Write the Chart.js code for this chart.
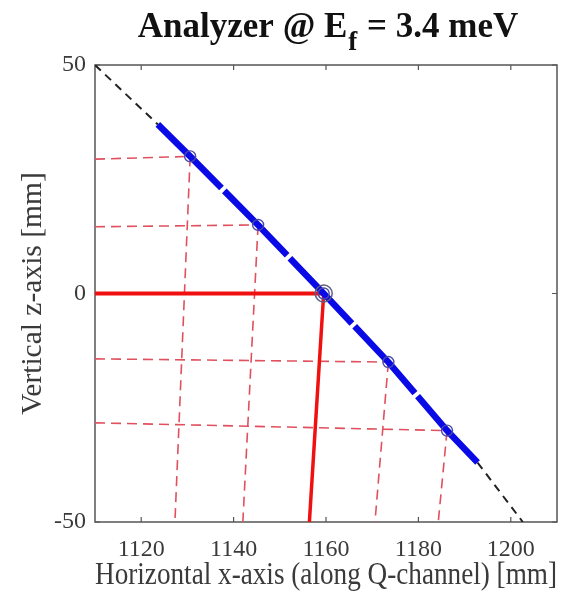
<!DOCTYPE html>
<html>
<head>
<meta charset="utf-8">
<script src="https://cdn.jsdelivr.net/npm/chart.js@4.4.1/dist/chart.umd.min.js"></script>
<style>
  html, body { margin: 0; padding: 0; background: #ffffff; }
  #wrap { width: 571px; height: 597px; }
</style>
</head>
<body>
<div id="wrap"><canvas id="c" width="571" height="597"></canvas></div>
<script>
// ---- data ----
const titleMain = "Analyzer @ E";
const titleSub = "f";
const titleTail = " = 3.4 meV";
const xLabel = "Horizontal x-axis (along Q-channel) [mm]";
const yLabel = "Vertical z-axis [mm]";
const xTicks = [1120, 1140, 1160, 1180, 1200];
const yTicks = [-50, 0, 50];

// analyzer blade positions (circles)
const bladeX = [1130.6, 1145.3, 1159.5, 1173.5, 1186.2];
const bladeZ = [30, 15, 0, -15, -30];

// thick blue analyzer curve
const analyzerX = [1123.6, 1130.6, 1145.3, 1159.5, 1173.5, 1186.2, 1192.8];
const analyzerZ = [37, 30, 15, 0, -15, -30, -37];

// black dashed extension of the curve
const extTopX = [1110.0, 1123.6];
const extTopZ = [50, 37];
const extBotX = [1192.8, 1202.6];
const extBotZ = [-37, -50];

// red dashed guide lines: left end (z at x = 1110) and bottom end (x at z = -50)
const guideLeftZ = [29.4, 14.6, -14.3, -28.3];
const guideIdx = [0, 1, 3, 4];
const guideBottomX = [1127.3, 1142.0, 1170.6, 1184.3];

// central (solid red) ray
const centerLeftZ = 0;
const centerBottomX = 1156.4;

const X_MIN = 1110, X_MAX = 1210, Y_MIN = -50, Y_MAX = 50;

// ---- build datasets ----
const pts = (xs, zs) => xs.map((x, i) => ({ x: x, y: zs[i] }));
const datasets = [];

datasets.push({
  label: 'center ring', data: [{ x: bladeX[2], y: bladeZ[2] }],
  showLine: false, pointRadius: 8.5, pointBorderWidth: 1.5,
  pointBorderColor: '#5e5e80', pointBackgroundColor: 'rgba(0,0,0,0)'
});
datasets.push({
  label: 'blades', data: pts(bladeX, bladeZ),
  showLine: false, pointRadius: 5.5, pointBorderWidth: 1.4,
  pointBorderColor: '#4a4aa8', pointBackgroundColor: 'rgba(0,0,0,0)'
});
datasets.push({
  label: 'analyzer', data: pts(analyzerX, analyzerZ),
  showLine: true, borderColor: '#0a0ae6', borderWidth: 6.5,
  borderDash: [90, 4], borderCapStyle: 'butt', pointRadius: 0, tension: 0
});
datasets.push({
  label: 'center horizontal', data: [{ x: X_MIN, y: centerLeftZ }, { x: bladeX[2], y: bladeZ[2] }],
  showLine: true, borderColor: '#f01010', borderWidth: 4, pointRadius: 0
});
datasets.push({
  label: 'center vertical', data: [{ x: bladeX[2], y: bladeZ[2] }, { x: centerBottomX, y: Y_MIN }],
  showLine: true, borderColor: '#f01010', borderWidth: 3.5, pointRadius: 0
});
guideIdx.forEach((k, j) => {
  datasets.push({
    label: 'guide h' + j, data: [{ x: X_MIN, y: guideLeftZ[j] }, { x: bladeX[k], y: bladeZ[k] }],
    showLine: true, borderColor: '#e0505e', borderWidth: 1.6, borderDash: [10, 6], pointRadius: 0
  });
  datasets.push({
    label: 'guide v' + j, data: [{ x: bladeX[k], y: bladeZ[k] }, { x: guideBottomX[j], y: Y_MIN }],
    showLine: true, borderColor: '#e0505e', borderWidth: 1.6, borderDash: [10, 6], pointRadius: 0
  });
});
datasets.push({
  label: 'ext top', data: pts(extTopX, extTopZ),
  showLine: true, borderColor: '#222222', borderWidth: 2, borderDash: [8, 6], pointRadius: 0
});
datasets.push({
  label: 'ext bottom', data: pts(extBotX, extBotZ),
  showLine: true, borderColor: '#222222', borderWidth: 2, borderDash: [8, 6], pointRadius: 0
});

// ---- frame + inner ticks + title plugin ----
const framePlugin = {
  id: 'frame',
  beforeDatasetsDraw(chart) {
    const ctx = chart.ctx, a = chart.chartArea;
    const xs = chart.scales.x, ys = chart.scales.y;
    ctx.save();
    ctx.strokeStyle = '#555555';
    ctx.lineWidth = 1.5;
    ctx.strokeRect(a.left, a.top, a.right - a.left, a.bottom - a.top);
    ctx.lineWidth = 1.2;
    ctx.beginPath();
    xTicks.forEach(v => {
      const px = xs.getPixelForValue(v);
      ctx.moveTo(px, a.bottom); ctx.lineTo(px, a.bottom - 5);
      ctx.moveTo(px, a.top); ctx.lineTo(px, a.top + 5);
    });
    yTicks.forEach(v => {
      const py = ys.getPixelForValue(v);
      ctx.moveTo(a.left, py); ctx.lineTo(a.left + 5, py);
      ctx.moveTo(a.right, py); ctx.lineTo(a.right - 5, py);
    });
    ctx.stroke();
    ctx.restore();
  },
  afterDraw(chart) {
    const ctx = chart.ctx;
    ctx.save();
    ctx.fillStyle = '#111111';
    ctx.textBaseline = 'alphabetic';
    ctx.textAlign = 'left';
    const big = 'bold 35px "Liberation Serif", "Times New Roman", serif';
    const small = 'bold 27px "Liberation Serif", "Times New Roman", serif';
    ctx.font = big;
    const w1 = ctx.measureText(titleMain).width;
    const w3 = ctx.measureText(titleTail).width;
    ctx.font = small;
    const w2 = ctx.measureText(titleSub).width + 2;
    const total = w1 + w2 + w3;
    const cx = 328;
    let x0 = cx - total / 2;
    ctx.font = big;
    ctx.fillText(titleMain, x0, 37);
    ctx.font = small;
    ctx.fillText(titleSub, x0 + w1 + 1, 50);
    ctx.font = big;
    ctx.fillText(titleTail, x0 + w1 + w2, 37);
    ctx.restore();
  }
};

const serif = '"Liberation Serif", "Times New Roman", serif';

new Chart(document.getElementById('c'), {
  type: 'scatter',
  data: { datasets: datasets },
  options: {
    responsive: false,
    animation: false,
    devicePixelRatio: 1,
    layout: { padding: { top: 65, right: 14, left: 0, bottom: 0 } },
    plugins: { legend: { display: false }, tooltip: { enabled: false }, title: { display: false } },
    elements: { line: { tension: 0 } },
    scales: {
      x: {
        type: 'linear', min: X_MIN, max: X_MAX,
        afterBuildTicks: s => { s.ticks = xTicks.map(v => ({ value: v })); },
        afterFit: s => { s.height = 75; },
        grid: { display: false },
        border: { display: false },
        ticks: { color: '#3a3a3a', font: { family: serif, size: 24 }, padding: 5, maxRotation: 0,
                 callback: v => String(v) },
        title: { display: true, text: xLabel, color: '#3a3a3a', font: { family: serif, size: 30.5 }, padding: { top: 0, bottom: 3 } }
      },
      y: {
        type: 'linear', min: Y_MIN, max: Y_MAX,
        afterBuildTicks: s => { s.ticks = yTicks.map(v => ({ value: v })); },
        afterFit: s => { s.width = 95; },
        grid: { display: false },
        border: { display: false },
        ticks: { color: '#3a3a3a', font: { family: serif, size: 24 }, padding: 1, callback: v => String(v) },
        title: { display: true, text: yLabel, color: '#3a3a3a', font: { family: serif, size: 29.5 }, padding: { top: 16, bottom: 0 } }
      }
    }
  },
  plugins: [framePlugin]
});
</script>
</body>
</html>
